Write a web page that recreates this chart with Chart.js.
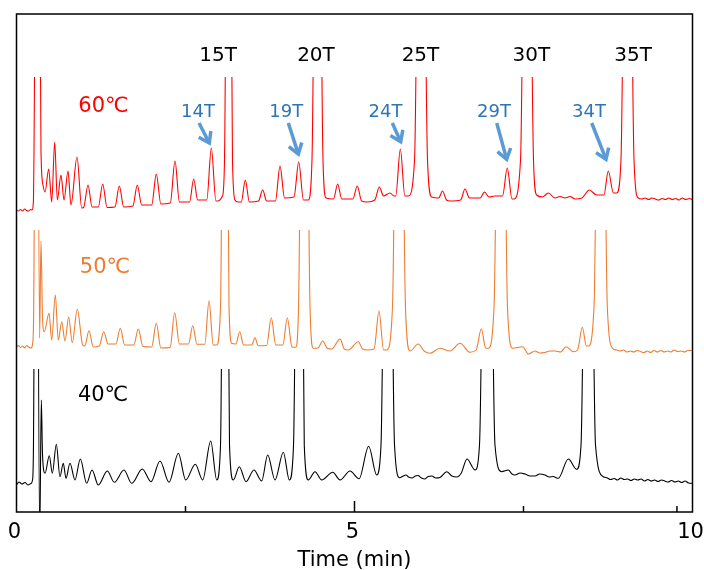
<!DOCTYPE html>
<html>
<head>
<meta charset="utf-8">
<script src="https://cdn.jsdelivr.net/npm/chart.js@4.4.1/dist/chart.umd.min.js"></script>
<style>
  html, body { margin: 0; padding: 0; background: #fff; }
</style>
</head>
<body>
<canvas id="chart" width="704" height="570"></canvas>
<script>
// chromatogram traces: time (min) and signal above each trace's own baseline
const redTime = [0, 0.03, 0.06, 0.09, 0.12, 0.15, 0.18, 0.21, 0.229, 0.251, 0.259, 0.311, 0.362, 0.392, 0.422,
  0.476, 0.521, 0.565, 0.604, 0.658, 0.703, 0.762, 0.806, 0.895, 0.965,
  0.993, 1.058, 1.118, 1.210, 1.275, 1.340, 1.456, 1.521, 1.586, 1.722, 1.787, 1.852,
  2.000, 2.068, 2.136, 2.275, 2.345, 2.410, 2.560, 2.621, 2.680, 2.815, 2.882, 2.950,
  2.976, 3.047, 3.077, 3.136, 3.195, 3.232, 3.277, 3.325, 3.385, 3.445, 3.580, 3.642, 3.700,
  3.830, 3.898, 3.965, 4.105, 4.175, 4.245, 4.317, 4.371, 4.453, 4.534, 4.579,
  4.690, 4.751, 4.812, 4.975, 5.041, 5.105, 5.189, 5.300, 5.367, 5.430, 5.525, 5.584,
  5.610, 5.678, 5.745, 5.796, 5.888, 5.984, 6.080, 6.142, 6.245, 6.302, 6.360, 6.413,
  6.570, 6.635, 6.700, 6.860, 6.923, 6.990, 7.078, 7.190, 7.260, 7.330, 7.359,
  7.456, 7.552, 7.648, 7.695, 7.780, 7.867, 7.966, 8.040, 8.114, 8.190, 8.262, 8.365,
  8.473, 8.583, 8.690, 8.754, 8.830, 8.879, 8.942, 9.038, 9.135, 9.198,
  9.25, 9.30, 9.35, 9.40, 9.45, 9.50, 9.55, 9.60, 9.65, 9.70, 9.75, 9.80, 9.85, 9.90, 9.95, 9.993];
const redSignal = [0, -1, 0.5, -1, 1, -0.5, -1, 0.5, 0, 10, 60, 600, 60, 25, 18,
  41, 8, 68, 10, 35, 10, 39, 5, 53, 2,
  2.5, 25, 3, 3, 26, 2.5, 3, 24, 3, 4, 25, 5,
  5, 36, 6, 7, 49, 8, 8, 31, 10, 10, 62, 9,
  9, 14, 50, 600, 50, 10, 8, 8, 30, 8, 9, 20, 9,
  9, 44, 12, 13, 48, 10, 10, 50, 600, 50, 12,
  11, 26, 11, 11, 24, 9, 8, 10, 23, 14, 17, 14,
  14, 61, 14, 14, 50, 600, 50, 13, 12, 19, 10, 9,
  10, 21, 12, 12, 18, 13, 14, 14, 42, 11, 11,
  50, 600, 50, 15, 13, 17, 12, 13.5, 12, 13.5, 11, 12,
  20, 15, 15, 39, 17, 17, 50, 600, 50, 12,
  11, 12, 10.5, 12, 11, 10, 11.5, 10.5, 12, 10.5, 11.5, 10, 12, 10.5, 11.5, 10.5];

const orangeTime = [0, 0.03, 0.06, 0.09, 0.12, 0.15, 0.18, 0.214, 0.244, 0.256, 0.296, 0.342, 0.362, 0.385, 0.411,
  0.481, 0.521, 0.574, 0.618, 0.669, 0.717, 0.772, 0.825, 0.899, 0.979,
  1.010, 1.072, 1.135, 1.225, 1.290, 1.355, 1.470, 1.536, 1.600, 1.735, 1.802, 1.870,
  2.000, 2.068, 2.135, 2.272, 2.340, 2.410, 2.545, 2.607, 2.670, 2.785, 2.848, 2.910,
  2.960, 3.018, 3.081, 3.144, 3.183, 3.245, 3.302, 3.360, 3.405, 3.480, 3.528, 3.575,
  3.700, 3.769, 3.835, 3.940, 4.006, 4.075, 4.130, 4.172, 4.257, 4.342, 4.391,
  4.460, 4.530, 4.600, 4.663, 4.786, 4.850, 4.908, 5.056, 5.120, 5.189, 5.290, 5.362, 5.430, 5.476,
  5.562, 5.658, 5.754, 5.821, 5.944, 6.030, 6.117, 6.265, 6.413, 6.561, 6.709,
  6.800, 6.876, 6.940, 6.979, 7.064, 7.167, 7.263, 7.340,
  7.488, 7.571, 7.670, 7.740, 7.818, 7.890, 7.966, 8.050, 8.129, 8.237, 8.300, 8.370, 8.430, 8.459,
  8.543, 8.642, 8.740, 8.820,
  8.88, 8.93, 8.98, 9.03, 9.08, 9.13, 9.18, 9.23, 9.28, 9.33, 9.38, 9.43, 9.48, 9.53, 9.58, 9.63, 9.68, 9.73, 9.78, 9.83, 9.88, 9.93, 9.993];
const orangeSignal = [0, 1.5, -0.5, 1, -1, 1.5, 0, -1, 7, 50, 600, 9, 106, 29, 15.3,
  33.7, 7, 52, 7, 25.3, 6, 30, 4.3, 37.7, 2,
  1, 16.3, 0, 1, 15.3, 3, 3, 18.7, 2, 2, 18, 0.5,
  0, 23.7, -1, -0.5, 34.3, 3, 3, 21.3, 2.7, 2.7, 46.3, 2,
  2, 40, 600, 40, 3.7, 3, 15.3, 2, 2, 2, 9.3, 1.3,
  1.5, 29.3, 2, 2, 29.3, 0, -0.3, 40, 600, 40, -1.3,
  -1, 6, -1.5, -2, 8, -2, -3, 5.3, -2, -3, -2, 36, -3, -3,
  40, 600, 40, -4, 3, -4, -6.3, -1.3, -4, 3.7, -5.3,
  -3, 18.3, -1, -1.3, 40, 600, 40, -1.3,
  0.3, -7, -4, -6, -5.5, -4, -4, -5, 0.3, -4.7, -3, 19.7, 1, 1,
  40, 600, 40, -1.3,
  -3, -4, -3, -5, -4, -5, -3.5, -4.5, -5.5, -4, -5.5, -3.5, -5, -3.5, -5, -4, -5, -3, -4.5, -4, -5, -3.5, -3.5];

const blackTime = [0, 0.037, 0.081, 0.126, 0.170, 0.214, 0.237, 0.251, 0.293, 0.343, 0.367, 0.385, 0.422,
  0.485, 0.530, 0.589, 0.643, 0.692, 0.732, 0.791, 0.865, 0.944, 1.038,
  1.117, 1.210, 1.343, 1.447, 1.590, 1.704, 1.861, 1.990, 2.123, 2.256,
  2.394, 2.503, 2.645, 2.754, 2.873, 2.962, 3.018, 3.084, 3.151, 3.207,
  3.296, 3.395, 3.513, 3.627, 3.716, 3.824, 3.947, 4.036, 4.098, 4.182, 4.257, 4.317,
  4.416, 4.515, 4.678, 4.786, 4.933, 5.067, 5.210, 5.328, 5.392, 5.491, 5.592, 5.669,
  5.72, 5.762, 5.80, 5.851, 5.90, 5.939, 5.99, 6.043, 6.09, 6.146, 6.20, 6.265, 6.364, 6.44, 6.512, 6.58,
  6.664, 6.783, 6.849, 6.964, 7.078, 7.178,
  7.275, 7.33, 7.374, 7.45, 7.522, 7.60, 7.670, 7.74, 7.818, 7.88, 7.937, 8.015, 8.163, 8.287,
  8.351, 8.459, 8.565, 8.680,
  8.74, 8.79, 8.84, 8.89, 8.94, 8.99, 9.04, 9.09, 9.14, 9.19, 9.24, 9.29, 9.34, 9.39, 9.44, 9.49,
  9.54, 9.59, 9.64, 9.69, 9.74, 9.79, 9.84, 9.89, 9.94, 9.993];
const blackSignal = [0, 3, 1, 2.5, 0, 1.5, 5, 40, 600, -55, 85, 30, 11.7,
  29.3, 11.7, 40.7, 8.3, 21.7, 6.7, 21.7, 5, 26, 1.7,
  15, 0, 14, 2.7, 15, 1.7, 16, 3.3, 24, 2.7,
  31.7, 5, 20.7, 5, 44, 5, 40, 600, 40, 5,
  18.3, 3.3, 15, 4, 30, 5, 32.7, 5, 40, 600, 40, 5,
  13.3, 5, 12.7, 5, 14, 6.2, 38.8, 10, 40, 600, 40, 7.2,
  9, 10, 8, 7, 9, 9.5, 7, 6, 8.5, 9, 7, 7.5, 13.3, 9, 8, 12,
  26, 15, 40, 600, 40, 13.3,
  15, 11, 10, 12, 11, 9, 9, 11, 10, 8, 8.5, 6.7, 26, 15.7,
  40, 600, 40, 8.3,
  7, 5.5, 6.5, 5, 7, 5.5, 6, 4.5, 6, 5, 6, 4, 5.5, 4, 5, 3.5,
  5, 4, 3, 4.5, 3, 4, 2.5, 4, 2, 1.7];

const traceLabels = ['60℃', '50℃', '40℃'];
const majorLabels = ['15T', '20T', '25T', '30T', '35T'];
const minorLabels = ['14T', '19T', '24T', '29T', '34T'];
const tickMarks = [2.5, 5, 7.5, 9.77];

// vertical stacking: baseline offset and clipping level of each trace (y units = px)
const traceOffset = [302, 165, 27];
const traceCap = [435, 282, 143];
const traceColor = ['#ff0000', '#ed7d31', '#000000'];

// annotation placement [time, y]
const traceLabelPos = [[1.287, 405], [1.309, 244.7], [1.280, 116.8]];
const majorLabelPos = [[2.981, 456.5], [4.430, 456.5], [5.976, 456.5], [7.615, 456.5], [9.120, 456.5]];
const minorLabelPos = [[2.685, 400], [3.991, 400], [5.459, 400], [7.064, 400], [8.469, 400]];
const arrowPos = [
  [2.700, 389, 2.852, 369],
  [4.021, 389, 4.169, 358],
  [5.559, 389, 5.683, 370.3],
  [7.104, 389, 7.251, 352.7],
  [8.509, 389, 8.720, 352.7]
];

const FONT = 'DejaVu Sans';

const traces = [[redTime, redSignal], [orangeTime, orangeSignal], [blackTime, blackSignal]];
const datasets = traces.map(([t, s], i) => ({
  label: traceLabels[i],
  data: t.map((v, k) => ({ x: v, y: traceOffset[i] + s[k] })),
  borderColor: traceColor[i],
  borderWidth: 1.1,
  pointRadius: 0,
  cubicInterpolationMode: 'monotone',
  fill: false
}));

function drawArrow(ctx, x0, y0, x1, y1) {
  const ang = Math.atan2(y1 - y0, x1 - x0);
  const head = 12, spread = Math.PI / 5.2;
  ctx.beginPath();
  ctx.moveTo(x0, y0);
  ctx.lineTo(x1 - 2 * Math.cos(ang), y1 - 2 * Math.sin(ang));
  ctx.stroke();
  ctx.beginPath();
  ctx.moveTo(x1 - head * Math.cos(ang - spread), y1 - head * Math.sin(ang - spread));
  ctx.lineTo(x1, y1);
  ctx.lineTo(x1 - head * Math.cos(ang + spread), y1 - head * Math.sin(ang + spread));
  ctx.stroke();
}

const overlay = {
  id: 'overlay',
  // each trace is cut off at its own ceiling, like the off-scale peaks
  beforeDatasetDraw(chart, args) {
    const { ctx, chartArea: a, scales: { y } } = chart;
    const top = y.getPixelForValue(traceCap[args.index]);
    ctx.save();
    ctx.beginPath();
    ctx.rect(a.left, top, a.right - a.left, a.bottom - top);
    ctx.clip();
  },
  afterDatasetDraw(chart) {
    chart.ctx.restore();
  },
  afterDraw(chart) {
    const { ctx, chartArea: a, scales: { x, y } } = chart;
    ctx.save();
    ctx.strokeStyle = '#000';
    ctx.lineWidth = 1.5;
    ctx.strokeRect(a.left, a.top, a.right - a.left, a.bottom - a.top);
    tickMarks.forEach(v => {
      const px = x.getPixelForValue(v);
      const len = v % 5 === 0 ? 11 : 6;
      ctx.beginPath();
      ctx.moveTo(px, a.bottom);
      ctx.lineTo(px, a.bottom - len);
      ctx.stroke();
    });

    ctx.textAlign = 'center';
    ctx.textBaseline = 'middle';
    ctx.font = '21px "' + FONT + '"';
    traceLabels.forEach((txt, i) => {
      ctx.fillStyle = traceColor[i];
      ctx.fillText(txt, x.getPixelForValue(traceLabelPos[i][0]), y.getPixelForValue(traceLabelPos[i][1]));
    });
    ctx.font = '20px "' + FONT + '"';
    ctx.fillStyle = '#000';
    majorLabels.forEach((txt, i) => {
      ctx.fillText(txt, x.getPixelForValue(majorLabelPos[i][0]), y.getPixelForValue(majorLabelPos[i][1]));
    });
    ctx.font = '18px "' + FONT + '"';
    ctx.fillStyle = '#2e75b6';
    minorLabels.forEach((txt, i) => {
      ctx.fillText(txt, x.getPixelForValue(minorLabelPos[i][0]), y.getPixelForValue(minorLabelPos[i][1]));
    });
    ctx.strokeStyle = '#5b9bd5';
    ctx.lineWidth = 3.5;
    ctx.lineJoin = 'miter';
    arrowPos.forEach(([t0, v0, t1, v1]) => {
      drawArrow(ctx, x.getPixelForValue(t0), y.getPixelForValue(v0), x.getPixelForValue(t1), y.getPixelForValue(v1));
    });
    ctx.restore();
  }
};

new Chart(document.getElementById('chart'), {
  type: 'line',
  data: { datasets },
  options: {
    responsive: false,
    animation: false,
    layout: { padding: { left: 16.5, right: 11.5, top: 14, bottom: 0 } },
    plugins: { legend: { display: false }, tooltip: { enabled: false } },
    scales: {
      x: {
        type: 'linear',
        min: 0,
        max: 10,
        grid: { display: false, drawTicks: false, tickLength: 0 },
        border: { display: false },
        ticks: { stepSize: 5, maxRotation: 0, padding: 8, labelOffset: -2, color: '#000', font: { family: FONT, size: 21 } },
        title: { display: true, text: 'Time (min)', color: '#000', font: { family: FONT, size: 21 }, padding: { top: 0, bottom: -3 } },
        afterFit(scale) {
          scale.paddingLeft = 0;
          scale.paddingRight = 0;
          scale.height = 58;
        }
      },
      y: { display: false, min: 0, max: 498 }
    }
  },
  plugins: [overlay]
});
</script>
</body>
</html>
